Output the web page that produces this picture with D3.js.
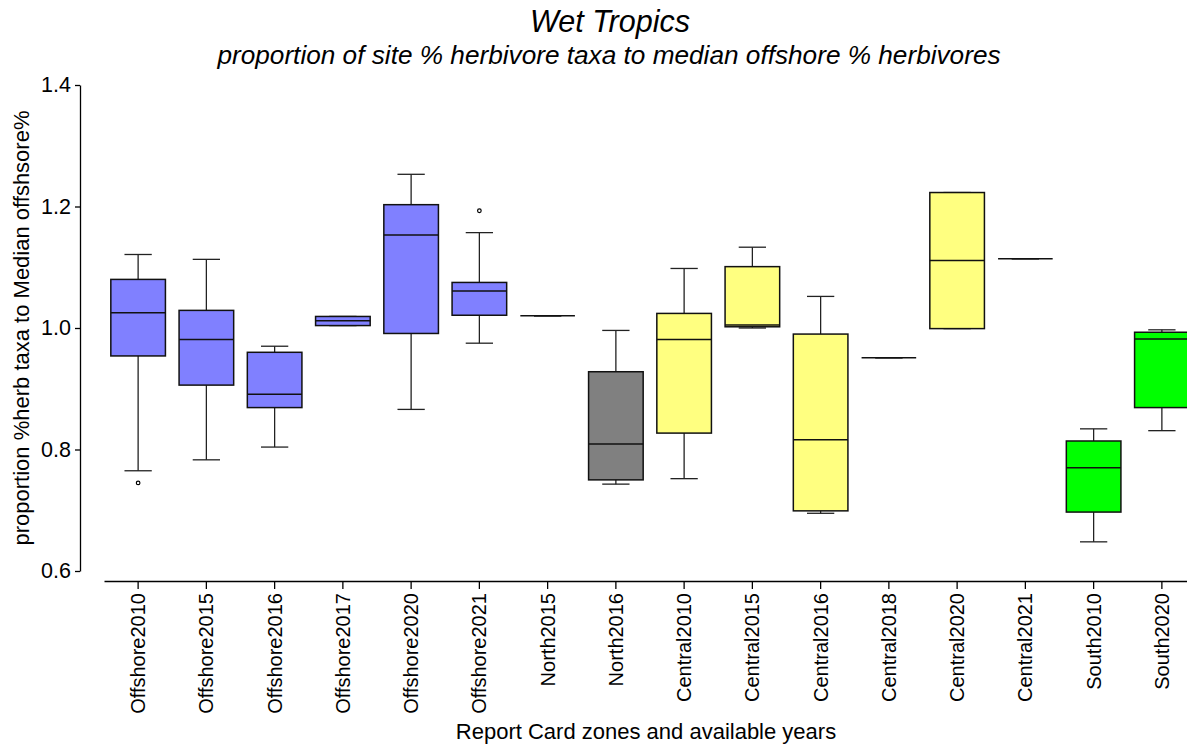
<!DOCTYPE html>
<html>
<head>
<meta charset="utf-8">
<script src="https://cdn.jsdelivr.net/npm/d3@7"></script>
<style>
  html, body { margin: 0; padding: 0; background: #fff; }
  svg { display: block; font-family: "Liberation Sans", Arial, sans-serif; }
</style>
</head>
<body>
<svg id="chart" width="1187" height="749"></svg>
<script>
// Report card zones and survey years
const categories = [
  "Offshore2010", "Offshore2015", "Offshore2016", "Offshore2017", "Offshore2020", "Offshore2021",
  "North2015", "North2016",
  "Central2010", "Central2015", "Central2016", "Central2018", "Central2020", "Central2021",
  "South2010", "South2020"
];
const zones = [
  "Offshore", "Offshore", "Offshore", "Offshore", "Offshore", "Offshore",
  "North", "North",
  "Central", "Central", "Central", "Central", "Central", "Central",
  "South", "South"
];

// Box-plot summary statistics per category
const whiskerHigh = [1.121, 1.113, 0.970, 1.019, 1.253, 1.157, 1.020, 0.996, 1.098, 1.133, 1.052, 0.951, 1.223, 1.114, 0.834, 0.997];
const q3          = [1.080, 1.029, 0.960, 1.019, 1.203, 1.075, 1.020, 0.928, 1.024, 1.101, 0.990, 0.951, 1.223, 1.114, 0.814, 0.993];
const median      = [1.025, 0.981, 0.891, 1.012, 1.153, 1.061, 1.020, 0.809, 0.981, 1.005, 0.816, 0.951, 1.111, 1.114, 0.770, 0.982];
const q1          = [0.954, 0.906, 0.869, 1.004, 0.991, 1.021, 1.020, 0.750, 0.827, 1.002, 0.699, 0.951, 0.999, 1.114, 0.697, 0.869];
const whiskerLow  = [0.765, 0.783, 0.804, 1.004, 0.866, 0.975, 1.020, 0.743, 0.752, 1.000, 0.695, 0.951, 0.999, 1.114, 0.648, 0.831];
const outliers    = [[0.745], [], [], [], [], [1.193], [], [], [], [], [], [], [], [], [], []];

const yTicks = [0.6, 0.8, 1.0, 1.2, 1.4];

const zoneColors = { Offshore: "#8080FF", North: "#808080", Central: "#FFFF80", South: "#00FF00" };

const svg = d3.select("#chart");

const x = d3.scaleBand().domain(categories).range([104, 1196]).padding(0);
const y = d3.scaleLinear().domain([0.6, 1.4]).range([571, 85]);

const boxW = x.bandwidth() * 0.8;
const capW = boxW * 0.5;

// Axes
const yAxis = svg.append("g")
  .attr("transform", "translate(80,0)")
  .call(d3.axisLeft(y).tickValues(yTicks).tickFormat(d3.format(".1f")).tickSize(5).tickSizeOuter(0).tickPadding(4));
yAxis.selectAll("text").attr("font-size", 21.5).attr("fill", "#000").attr("font-family", "Liberation Sans, Arial, sans-serif");
yAxis.selectAll("line, path").attr("stroke", "#000").attr("stroke-width", 1.3);

const xAxis = svg.append("g")
  .attr("transform", "translate(0,581)")
  .call(d3.axisBottom(x).tickSize(8).tickSizeOuter(0));
xAxis.selectAll("line, path").attr("stroke", "#000").attr("stroke-width", 1.3);
xAxis.selectAll("text")
  .attr("font-size", 20)
  .attr("fill", "#000")
  .attr("font-family", "Liberation Sans, Arial, sans-serif")
  .attr("transform", "rotate(-90)")
  .attr("text-anchor", "end")
  .attr("x", -12)
  .attr("y", 0)
  .attr("dy", "0.35em");

// Boxes
const rows = categories.map((c, i) => ({
  cat: c, zone: zones[i], lo: whiskerLow[i], q1: q1[i], med: median[i], q3: q3[i], hi: whiskerHigh[i], out: outliers[i]
}));

const g = svg.append("g");
const box = g.selectAll("g.box").data(rows).join("g")
  .attr("class", "box")
  .attr("transform", d => `translate(${x(d.cat) + x.bandwidth() / 2},0)`);

// whisker stems
box.append("line")
  .attr("x1", 0).attr("x2", 0)
  .attr("y1", d => y(d.q3)).attr("y2", d => y(d.hi))
  .attr("stroke", "#222").attr("stroke-width", 1.3);
box.append("line")
  .attr("x1", 0).attr("x2", 0)
  .attr("y1", d => y(d.q1)).attr("y2", d => y(d.lo))
  .attr("stroke", "#222").attr("stroke-width", 1.3);
// whisker caps
box.append("line")
  .attr("x1", -capW / 2).attr("x2", capW / 2)
  .attr("y1", d => y(d.hi)).attr("y2", d => y(d.hi))
  .attr("stroke", "#222").attr("stroke-width", 1.3);
box.append("line")
  .attr("x1", -capW / 2).attr("x2", capW / 2)
  .attr("y1", d => y(d.lo)).attr("y2", d => y(d.lo))
  .attr("stroke", "#222").attr("stroke-width", 1.3);

// interquartile box
box.append("rect")
  .attr("x", -boxW / 2)
  .attr("width", boxW)
  .attr("y", d => y(d.q3))
  .attr("height", d => y(d.q1) - y(d.q3))
  .attr("fill", d => zoneColors[d.zone])
  .attr("stroke", "#111").attr("stroke-width", 1.5);

// median
box.append("line")
  .attr("x1", -boxW / 2).attr("x2", boxW / 2)
  .attr("y1", d => y(d.med)).attr("y2", d => y(d.med))
  .attr("stroke", "#111").attr("stroke-width", 1.5);

// outliers
box.selectAll("circle").data(d => d.out).join("circle")
  .attr("cx", 0).attr("cy", v => y(v)).attr("r", 1.8)
  .attr("fill", "#fff").attr("stroke", "#000").attr("stroke-width", 1.2);

// Titles
svg.append("text")
  .attr("x", 610).attr("y", 32)
  .attr("text-anchor", "middle")
  .attr("font-size", 30.5).attr("font-style", "italic")
  .text("Wet Tropics");
svg.append("text")
  .attr("x", 609).attr("y", 64)
  .attr("text-anchor", "middle")
  .attr("font-size", 26.2).attr("font-style", "italic")
  .text("proportion of site % herbivore taxa to median offshore % herbivores");

svg.append("text")
  .attr("x", 646).attr("y", 739)
  .attr("text-anchor", "middle")
  .attr("font-size", 22)
  .text("Report Card zones and available years");

svg.append("text")
  .attr("transform", "translate(29,328) rotate(-90)")
  .attr("text-anchor", "middle")
  .attr("font-size", 22)
  .text("proportion %herb taxa to Median offshsore%");
</script>
</body>
</html>
